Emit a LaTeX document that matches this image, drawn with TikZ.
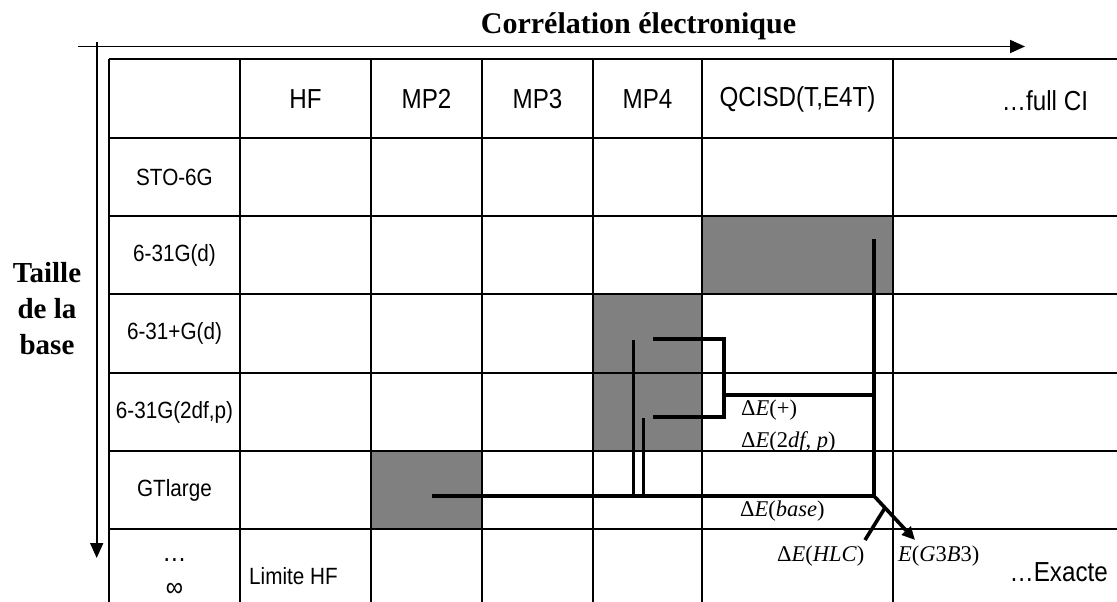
\documentclass[tikz,border=0pt]{standalone}
\usepackage{fontspec}
\setmainfont{Liberation Sans}[FakeStretch=0.88]
\newfontfamily\tnr{Liberation Serif}
\usetikzlibrary{arrows.meta}
\begin{document}
\begin{tikzpicture}[x=1pt,y=-1pt,
  gridline/.style={line width=1.7pt},
  axisline/.style={line width=1.8pt,-{Triangle[length=15pt,width=13pt]}},
  shadecell/.style={fill={rgb,255:red,128;green,128;blue,128}},
  bold line/.style={line width=3.6pt},
  mid line/.style={line width=3pt},
  hdr/.style={font=\fontsize{27.5}{32}\selectfont},
  rowlab/.style={font=\fontsize{23.5}{28}\selectfont},
  mathlab/.style={font=\tnr\fontsize{22.5}{26}\selectfont,anchor=west,inner sep=0pt},
  titlelab/.style={font=\tnr\bfseries\fontsize{30}{36}\selectfont}]
\useasboundingbox (0,0) rectangle (1117,602);
% shaded cells
\fill[shadecell] (371,451) rectangle (482,529);
\fill[shadecell] (593,294) rectangle (702,451);
\fill[shadecell] (702,216) rectangle (893,294);
% grid
\foreach \x in {109,240,371,482,593,702,893}
  \draw[gridline] (\x,59) -- (\x,602);
\foreach \y in {59,137.7,215.7,294,373,451,529}
  \draw[gridline] (109,\y) -- (1117,\y);
% axes
\coordinate (hA) at (78,46.5);
\coordinate (hB) at (1025,46.5);
\coordinate (vA) at (96.7,42);
\coordinate (vB) at (96.7,558);
\draw[axisline] (hA) -- (hB);
\draw[axisline] (vA) -- (vB);
% titles
\node[titlelab,anchor=base] (title) at (638.5,34) {Corrélation électronique};
\node[titlelab,align=center,font=\tnr\bfseries\fontsize{29}{36}\selectfont] (taille) at (47,309) {Taille\\de la\\base};
% header
\node[hdr] (hHF) at (305.5,99) {HF};
\node[hdr] (hMP2) at (426.5,99) {MP2};
\node[hdr] (hMP3) at (537.5,99) {MP3};
\node[hdr] (hMP4) at (647.5,99) {MP4};
\node[hdr] (hQC) at (797.5,99) {QCISD(T,E4T)};
\node[hdr] (hFCI) at (1045,101) {…full CI};
% row labels
\node[rowlab] (rSTO) at (174.5,177) {STO-6G};
\node[rowlab] (r1) at (174.5,255) {6-31G(d)};
\node[rowlab] (r2) at (174.5,333.5) {6-31+G(d)};
\node[rowlab] (r3) at (174.5,412) {6-31G(2df,p)};
\node[rowlab] (r4) at (174.5,490) {GTlarge};
\node[hdr,anchor=base] (rdots) at (174.5,561) {…};
\node[hdr] (rinf) at (174.5,590) {∞};
\node[rowlab,anchor=west,inner sep=0pt] (limHF) at (249,576) {Limite HF};
\node[hdr,anchor=east,inner sep=0pt] (exact) at (1108,572) {…Exacte};
% thick connector lines
\coordinate (gtStart) at (432,496);
\coordinate (corner) at (874,496);
\coordinate (qcTop) at (874,239);
\coordinate (plusJ) at (724,395);
\coordinate (plusR) at (874,395);
\coordinate (bTopL) at (653,339);
\coordinate (bTopR) at (724,339);
\coordinate (bBotR) at (724,417);
\coordinate (bBotL) at (653,417);
\coordinate (v1Top) at (633,340);
\coordinate (v1Bot) at (633,496);
\coordinate (v2Top) at (643,418);
\coordinate (v2Bot) at (643,496);
\coordinate (g3tip) at (915,540);
\coordinate (hlcEnd) at (865,540);
\coordinate (hlcJoin) at (885,507.8);
\draw[bold line] (gtStart) -- (corner);
\draw[bold line] (qcTop) -- (corner);
\draw[bold line] (plusJ) -- (plusR);
\draw[bold line] (bTopL) -- (bTopR) -- (bBotR) -- (bBotL);
\draw[mid line] (v1Top) -- (v1Bot);
\draw[mid line] (v2Top) -- (v2Bot);
\draw[bold line,-{Triangle[length=13pt,width=12pt]}] (corner) -- (g3tip);
\draw[bold line] (hlcEnd) -- (hlcJoin);
% math labels
\node[mathlab] (dplus) at (741,410) {Δ\textit{E}(+)};
\node[mathlab] (d2df) at (741,442) {Δ\textit{E}(2\textit{df}, \textit{p})};
\node[mathlab] (dbase) at (740,511) {Δ\textit{E}(\textit{base})};
\node[mathlab] (dhlc) at (777,556) {Δ\textit{E}(\textit{HLC})};
\node[mathlab] (eg3) at (898,556) {\textit{E}(\textit{G}3\textit{B}3)};
\end{tikzpicture}
\end{document}
